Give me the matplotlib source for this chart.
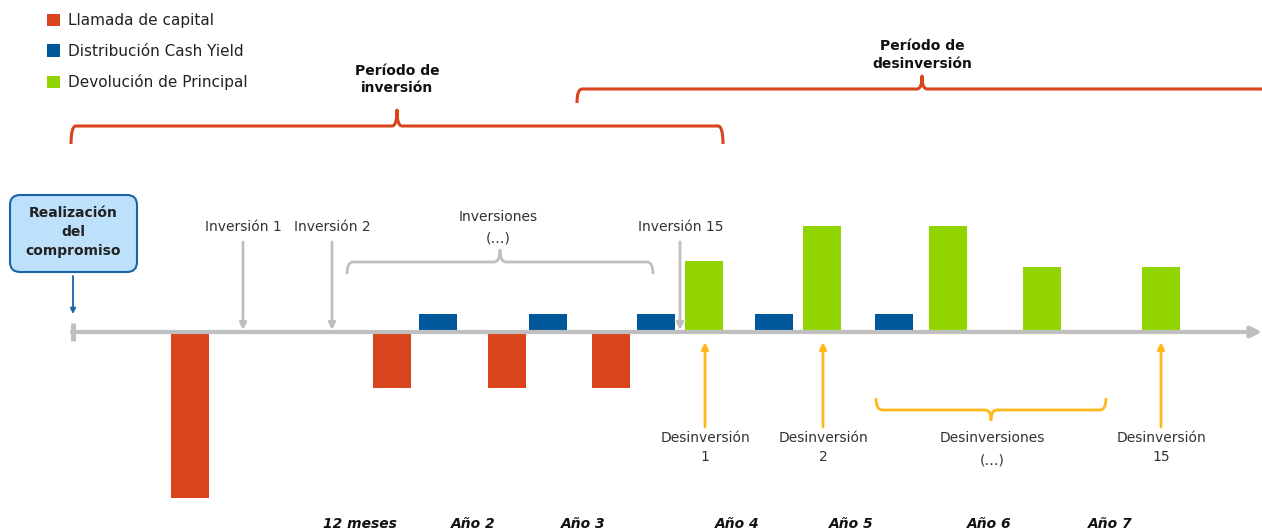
import matplotlib
matplotlib.use("Agg")
from matplotlib import pyplot as plt
from matplotlib.path import Path
from matplotlib.patches import PathPatch, FancyBboxPatch

# bar values (arbitrary units, capital call negative)
calls_x = [190, 392, 507, 611]
calls = [-100, -34, -34, -34]
yield_x = [438, 548, 656, 774, 894]
yields = [11, 11, 11, 11, 11]
principal_x = [704, 822, 948, 1042, 1161]
principal = [43, 64, 64, 39, 39]

years = ["12 meses", "Año 2", "Año 3", "Año 4", "Año 5", "Año 6", "Año 7"]
years_x = [360, 473, 583, 737, 851, 989, 1110]

RED = "#d9441c"
BLUE = "#00589b"
GREEN = "#92d400"
GOLD = "#ffb81c"
GRAY = "#bfbfbf"
DARK = "#333333"

W, H = 1262, 531
BASE = 332  # pixel row of the timeline
SCALE = 1.66  # pixels per unit

fig = plt.figure(figsize=(W / 100, H / 100), dpi=100)
ax = fig.add_axes([0, 0, 1, 1])
ax.set_xlim(0, W)
ax.set_ylim(-(H - BASE) / SCALE, BASE / SCALE)
ax.axis("off")

ax.bar(calls_x, calls, width=38, color=RED, label="Llamada de capital")
ax.bar(yield_x, yields, width=38, color=BLUE, label="Distribución Cash Yield")
ax.bar(principal_x, principal, width=38, color=GREEN, label="Devolución de Principal")

ax.legend(loc="upper left", bbox_to_anchor=(47 / W, 1 - 13 / H), frameon=False,
          fontsize=11, handlelength=0.85, handleheight=0.85, handletextpad=0.5,
          labelspacing=1.03, borderpad=0, borderaxespad=0, labelcolor="#222222")

# overlay in pixel coordinates for the diagram elements
ov = fig.add_axes([0, 0, 1, 1])
ov.set_xlim(0, W)
ov.set_ylim(H, 0)
ov.axis("off")
ov.patch.set_alpha(0)


def brace(x0, x1, y, arm, tip, color, lw, r=6):
    xm = (x0 + x1) / 2
    verts = [(x0, y + arm), (x0, y), (x0 + r, y),
             (xm - r, y), (xm, y), (xm, y + tip),
             (xm, y), (xm + r, y),
             (x1 - r, y), (x1, y), (x1, y + arm)]
    codes = [Path.MOVETO, Path.CURVE3, Path.CURVE3,
             Path.LINETO, Path.CURVE3, Path.CURVE3,
             Path.CURVE3, Path.CURVE3,
             Path.LINETO, Path.CURVE3, Path.CURVE3]
    ov.add_patch(PathPatch(Path(verts, codes), fill=False, edgecolor=color,
                           lw=lw, capstyle="butt", joinstyle="round"))


def arrow(x, y0, y1, color, lw=2, scale=12):
    ov.annotate("", xy=(x, y1), xytext=(x, y0), annotation_clip=False,
                arrowprops=dict(arrowstyle="-|>", color=color, lw=lw,
                                mutation_scale=scale, shrinkA=0, shrinkB=0))


# timeline
ov.annotate("", xy=(1262, BASE), xytext=(72, BASE), annotation_clip=False,
            arrowprops=dict(arrowstyle="-|>", color=GRAY, lw=3,
                            mutation_scale=16, shrinkA=0, shrinkB=0))
ov.plot([73, 73], [323, 341], color=GRAY, lw=3.5, solid_capstyle="butt")

# commitment box
ov.add_patch(FancyBboxPatch((14, 199), 119, 69, boxstyle="round,pad=4,rounding_size=10",
                            facecolor="#bde0fb", edgecolor="#1a64a8", lw=1.5))
for i, t in enumerate(["Realización", "del", "compromiso"]):
    ov.text(73, 213 + i * 19, t, ha="center", va="center", fontsize=10,
            fontweight="bold", color="#222222")
arrow(73, 276, 314, "#1a64a8", lw=1.3, scale=8)

# investment markers
for x, t, xt in [(243, "Inversión 1", 243), (332, "Inversión 2", 332), (680, "Inversión 15", 681)]:
    ov.text(xt, 227, t, ha="center", va="center", fontsize=10, color=DARK)
    arrow(x, 242, 330, GRAY, lw=2, scale=10)

brace(347, 653, 262, 12, -12, GRAY, 2)
ov.text(498, 217, "Inversiones", ha="center", va="center", fontsize=10, color=DARK)
ov.text(498, 238, "(…)", ha="center", va="center", fontsize=10, color=DARK)

# divestment markers
for x, n in [(705, "1"), (823, "2"), (1161, "15")]:
    arrow(x, 427, 342, GOLD, lw=2, scale=10)
    ov.text(x, 438, "Desinversión", ha="center", va="center", fontsize=10, color=DARK)
    ov.text(x, 457, n, ha="center", va="center", fontsize=10, color=DARK)

brace(876, 1106, 410, -12, 10, GOLD, 2)
ov.text(992, 438, "Desinversiones", ha="center", va="center", fontsize=10, color=DARK)
ov.text(992, 460, "(…)", ha="center", va="center", fontsize=10, color=DARK)

# periods
brace(71, 723, 126, 18, -16, RED, 2.2, r=5)
ov.text(397, 71, "Período de", ha="center", va="center", fontsize=10, fontweight="bold", color="#111111")
ov.text(397, 88, "inversión", ha="center", va="center", fontsize=10, fontweight="bold", color="#111111")

brace(577, 1267, 89, 14, -13, RED, 2.2, r=5)
ov.text(922, 46, "Período de", ha="center", va="center", fontsize=10, fontweight="bold", color="#111111")
ov.text(922, 64, "desinversión", ha="center", va="center", fontsize=10, fontweight="bold", color="#111111")

for x, t in zip(years_x, years):
    ov.text(x, 517, t, ha="center", va="top", fontsize=10, fontweight="bold",
            fontstyle="italic", color="#111111")

fig.savefig("out.png", dpi=100)
plt.close(fig)
